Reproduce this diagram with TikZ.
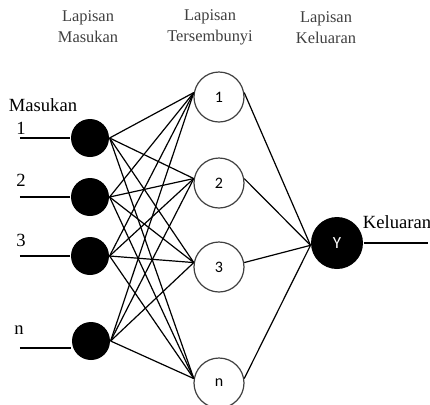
\documentclass[tikz,border=0pt]{standalone}
\usepackage{fontspec}
\setmainfont{Liberation Serif}
\newfontfamily\numfont{Carlito}
\usepackage{tikz}

\begin{document}
\begin{tikzpicture}[x=0.5pt,y=-0.5pt,
    inp/.style={circle, fill=black, minimum size=19pt, inner sep=0pt},
    hid/.style={circle, draw=black!75, line width=0.6pt, fill=white, minimum size=25pt, inner sep=0pt, font=\numfont\fontsize{8}{8}\selectfont},
    outp/.style={circle, fill=black, minimum size=26pt, inner sep=0pt, text=white, font=\numfont\fontsize{8.5}{8.5}\selectfont},
    head/.style={align=center, text=black!75, font=\fontsize{8.2}{10.5}\selectfont},
    lbl/.style={font=\fontsize{9.3}{9.3}\selectfont},
    line width=0.6pt]
    \useasboundingbox(0,0)rectangle(430,404);

    % judul lapisan
    \node[head](hMasukan) at (88,27){Lapisan\\Masukan};
    \node[head](hTersembunyi) at (210,27){Lapisan\\Tersembunyi};
    \node[head](hKeluaran) at (326,28){Lapisan\\Keluaran};

    % lapisan masukan
    \node[inp](i1) at (90,138){};
    \node[inp](i2) at (90,197){};
    \node[inp](i3) at (90,256){};
    \node[inp](in) at (91,341){};
    \coordinate(s1) at (20,138);
    \coordinate(s2) at (20,197);
    \coordinate(s3) at (20,256);
    \coordinate(sn) at (20,348);
    \node[lbl](lMasukan) at (43,105){Masukan};
    \node[lbl](l1) at (21,128){1};
    \node[lbl](l2) at (21,180){2};
    \node[lbl](l3) at (21,240){3};
    \node[lbl](ln) at (19,330){n};

    % lapisan tersembunyi
    \node[hid](h1) at (219,97){1};
    \node[hid](h2) at (219,183){2};
    \node[hid](h3) at (219,267){3};
    \node[hid](hn) at (219,383){n};

    % lapisan keluaran
    \node[outp](y) at (337,243){Y};
    \coordinate(e) at (428,243);
    \node[lbl](lKeluaran) at (397,222){Keluaran};

    \draw(s1)--(i1.west);
    \draw(s2)--(i2.west);
    \draw(s3)--(i3.west);
    \draw(sn)--(sn-|in.west);
    \foreach \a in {i1,i2,i3,in}
        \foreach \b in {h1,h2,h3,hn}
            \draw(\a.east)--(\b.170);
    \foreach \b in {h1,h2,h3,hn}
        \draw(\b.10)--(y.185);
    \draw(y.east)--(e);
\end{tikzpicture}
\end{document}
